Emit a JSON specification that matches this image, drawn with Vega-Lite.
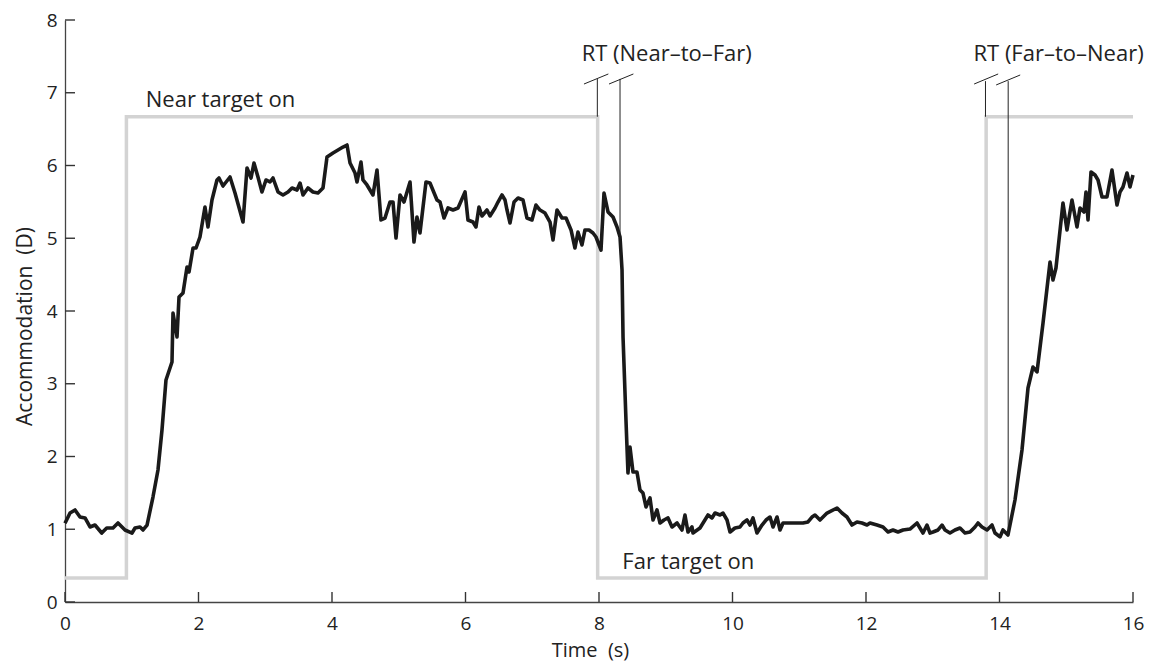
{
  "$schema": "https://vega.github.io/schema/vega-lite/v6.json",
  "width": 1068,
  "height": 582,
  "autosize": {"type": "none"},
  "padding": {"left": 65, "top": 20, "right": 19, "bottom": 59},
  "background": "white",
  "config": {
    "font": "Open Sans",
    "view": {"stroke": null},
    "axis": {
      "grid": false,
      "domainColor": "#444",
      "domainWidth": 1.3,
      "ticks": false,
      "tickSize": 0,
      "labelFontSize": 19,
      "labelColor": "#222",
      "labelFont": "Open Sans",
      "labelFlush": false,
      "titleFont": "Open Sans",
      "titleFontSize": 21,
      "titleFontWeight": "normal",
      "titleColor": "#222"
    }
  },
  "datasets": {
    "trace": [
      {"t":0.000,"a":1.082},{"t":0.075,"a":1.223},{"t":0.150,"a":1.265},{"t":0.225,"a":1.168},{"t":0.300,"a":1.155},
      {"t":0.375,"a":1.031},{"t":0.449,"a":1.058},{"t":0.550,"a":0.948},{"t":0.625,"a":1.017},{"t":0.719,"a":1.017},
      {"t":0.794,"a":1.086},{"t":0.899,"a":0.990},{"t":1.004,"a":0.948},{"t":1.049,"a":1.017},{"t":1.124,"a":1.031},
      {"t":1.169,"a":0.990},{"t":1.229,"a":1.058},{"t":1.318,"a":1.443},{"t":1.393,"a":1.814},{"t":1.453,"a":2.364},
      {"t":1.513,"a":3.052},{"t":1.603,"a":3.299},{"t":1.618,"a":3.973},{"t":1.678,"a":3.643},{"t":1.708,"a":4.192},
      {"t":1.768,"a":4.247},{"t":1.828,"a":4.605},{"t":1.858,"a":4.536},{"t":1.918,"a":4.866},{"t":1.963,"a":4.866},
      {"t":2.022,"a":5.017},{"t":2.097,"a":5.430},{"t":2.142,"a":5.155},{"t":2.202,"a":5.526},{"t":2.277,"a":5.801},
      {"t":2.307,"a":5.828},{"t":2.367,"a":5.718},{"t":2.472,"a":5.842},{"t":2.547,"a":5.622},{"t":2.667,"a":5.223},
      {"t":2.727,"a":5.966},{"t":2.787,"a":5.828},{"t":2.831,"a":6.034},{"t":2.891,"a":5.842},{"t":2.951,"a":5.636},
      {"t":3.011,"a":5.801},{"t":3.071,"a":5.773},{"t":3.116,"a":5.828},{"t":3.191,"a":5.636},{"t":3.266,"a":5.595},
      {"t":3.341,"a":5.636},{"t":3.401,"a":5.691},{"t":3.476,"a":5.663},{"t":3.521,"a":5.759},{"t":3.566,"a":5.595},
      {"t":3.640,"a":5.691},{"t":3.715,"a":5.636},{"t":3.790,"a":5.622},{"t":3.865,"a":5.691},{"t":3.925,"a":6.117},
      {"t":4.015,"a":6.172},{"t":4.090,"a":6.213},{"t":4.165,"a":6.254},{"t":4.225,"a":6.282},{"t":4.270,"a":6.034},
      {"t":4.345,"a":5.897},{"t":4.375,"a":5.773},{"t":4.434,"a":6.048},{"t":4.464,"a":5.801},{"t":4.524,"a":5.732},
      {"t":4.614,"a":5.595},{"t":4.674,"a":5.938},{"t":4.734,"a":5.251},{"t":4.794,"a":5.278},{"t":4.869,"a":5.498},
      {"t":4.914,"a":5.498},{"t":4.959,"a":5.003},{"t":5.019,"a":5.595},{"t":5.079,"a":5.498},{"t":5.169,"a":5.773},
      {"t":5.228,"a":4.948},{"t":5.273,"a":5.292},{"t":5.318,"a":5.072},{"t":5.408,"a":5.773},{"t":5.468,"a":5.759},
      {"t":5.573,"a":5.526},{"t":5.618,"a":5.498},{"t":5.678,"a":5.278},{"t":5.738,"a":5.416},{"t":5.813,"a":5.388},
      {"t":5.888,"a":5.416},{"t":5.993,"a":5.636},{"t":6.037,"a":5.251},{"t":6.112,"a":5.223},{"t":6.157,"a":5.155},
      {"t":6.202,"a":5.430},{"t":6.247,"a":5.306},{"t":6.322,"a":5.388},{"t":6.367,"a":5.306},{"t":6.442,"a":5.416},
      {"t":6.487,"a":5.498},{"t":6.547,"a":5.595},{"t":6.592,"a":5.526},{"t":6.622,"a":5.388},{"t":6.667,"a":5.210},
      {"t":6.727,"a":5.498},{"t":6.787,"a":5.553},{"t":6.861,"a":5.526},{"t":6.921,"a":5.278},{"t":6.996,"a":5.251},
      {"t":7.056,"a":5.457},{"t":7.116,"a":5.388},{"t":7.191,"a":5.347},{"t":7.266,"a":5.223},{"t":7.311,"a":4.976},
      {"t":7.371,"a":5.388},{"t":7.446,"a":5.278},{"t":7.506,"a":5.278},{"t":7.581,"a":5.114},{"t":7.640,"a":4.866},
      {"t":7.685,"a":5.086},{"t":7.745,"a":4.907},{"t":7.790,"a":5.114},{"t":7.850,"a":5.114},{"t":7.910,"a":5.072},
      {"t":7.955,"a":5.017},{"t":8.030,"a":4.838},{"t":8.075,"a":5.622},{"t":8.135,"a":5.361},{"t":8.210,"a":5.292},
      {"t":8.270,"a":5.155},{"t":8.315,"a":5.017},{"t":8.345,"a":4.564},{"t":8.360,"a":3.643},{"t":8.404,"a":2.502},
      {"t":8.434,"a":1.773},{"t":8.464,"a":2.131},{"t":8.509,"a":1.787},{"t":8.569,"a":1.787},{"t":8.614,"a":1.540},
      {"t":8.659,"a":1.498},{"t":8.704,"a":1.306},{"t":8.764,"a":1.430},{"t":8.809,"a":1.127},{"t":8.869,"a":1.265},
      {"t":8.914,"a":1.086},{"t":8.974,"a":1.127},{"t":9.034,"a":1.155},{"t":9.094,"a":1.031},{"t":9.169,"a":1.086},
      {"t":9.243,"a":0.990},{"t":9.288,"a":1.196},{"t":9.333,"a":0.962},{"t":9.393,"a":1.031},{"t":9.408,"a":0.948},
      {"t":9.513,"a":1.017},{"t":9.633,"a":1.196},{"t":9.693,"a":1.155},{"t":9.738,"a":1.223},{"t":9.813,"a":1.196},
      {"t":9.858,"a":1.223},{"t":9.918,"a":1.127},{"t":9.963,"a":0.962},{"t":10.037,"a":1.017},{"t":10.112,"a":1.031},
      {"t":10.157,"a":1.086},{"t":10.217,"a":1.127},{"t":10.262,"a":1.058},{"t":10.307,"a":1.155},{"t":10.367,"a":0.948},
      {"t":10.442,"a":1.058},{"t":10.502,"a":1.127},{"t":10.562,"a":1.168},{"t":10.607,"a":1.031},{"t":10.667,"a":1.168},
      {"t":10.712,"a":0.990},{"t":10.757,"a":1.086},{"t":10.861,"a":1.086},{"t":10.966,"a":1.086},{"t":11.056,"a":1.086},
      {"t":11.131,"a":1.100},{"t":11.191,"a":1.168},{"t":11.236,"a":1.196},{"t":11.311,"a":1.127},{"t":11.416,"a":1.223},
      {"t":11.566,"a":1.292},{"t":11.640,"a":1.223},{"t":11.715,"a":1.168},{"t":11.790,"a":1.058},{"t":11.865,"a":1.100},
      {"t":11.940,"a":1.086},{"t":12.015,"a":1.058},{"t":12.060,"a":1.086},{"t":12.165,"a":1.058},{"t":12.255,"a":1.031},
      {"t":12.330,"a":0.962},{"t":12.404,"a":0.990},{"t":12.479,"a":0.962},{"t":12.554,"a":0.990},{"t":12.659,"a":1.003},
      {"t":12.764,"a":1.086},{"t":12.809,"a":1.017},{"t":12.854,"a":0.948},{"t":12.914,"a":1.058},{"t":12.959,"a":0.948},
      {"t":13.004,"a":0.962},{"t":13.079,"a":0.990},{"t":13.139,"a":1.058},{"t":13.184,"a":0.990},{"t":13.258,"a":0.948},
      {"t":13.333,"a":0.990},{"t":13.408,"a":1.017},{"t":13.483,"a":0.948},{"t":13.558,"a":0.962},{"t":13.633,"a":1.031},
      {"t":13.678,"a":1.086},{"t":13.738,"a":1.031},{"t":13.813,"a":0.990},{"t":13.888,"a":1.058},{"t":13.933,"a":0.948},
      {"t":14.007,"a":0.894},{"t":14.052,"a":0.990},{"t":14.127,"a":0.921},{"t":14.232,"a":1.402},{"t":14.337,"a":2.089},
      {"t":14.427,"a":2.942},{"t":14.502,"a":3.230},{"t":14.562,"a":3.162},{"t":14.652,"a":3.835},{"t":14.757,"a":4.674},
      {"t":14.801,"a":4.426},{"t":14.846,"a":4.591},{"t":14.951,"a":5.485},{"t":15.011,"a":5.113},{"t":15.086,"a":5.526},
      {"t":15.161,"a":5.155},{"t":15.206,"a":5.416},{"t":15.266,"a":5.361},{"t":15.296,"a":5.636},{"t":15.326,"a":5.251},
      {"t":15.371,"a":5.911},{"t":15.431,"a":5.869},{"t":15.476,"a":5.801},{"t":15.536,"a":5.567},{"t":15.610,"a":5.567},
      {"t":15.685,"a":5.938},{"t":15.760,"a":5.457},{"t":15.805,"a":5.636},{"t":15.850,"a":5.705},{"t":15.910,"a":5.897},
      {"t":15.955,"a":5.705},{"t":16.000,"a":5.869}
    ],
    "stim": [
      {"i":0,"t":0,"v":0.33},{"i":1,"t":0.92,"v":0.33},{"i":2,"t":0.92,"v":6.67},{"i":3,"t":7.98,"v":6.67},
      {"i":4,"t":7.98,"v":0.33},{"i":5,"t":13.80,"v":0.33},{"i":6,"t":13.80,"v":6.67},{"i":7,"t":16,"v":6.67}
    ],
    "rt": [
      {"x1":7.975,"y1":6.67,"x2":7.975,"y2":7.19},
      {"x1":8.315,"y1":5.02,"x2":8.315,"y2":7.19},
      {"x1":7.775,"y1":7.12,"x2":8.14,"y2":7.258},
      {"x1":8.15,"y1":7.12,"x2":8.515,"y2":7.258},
      {"x1":13.79,"y1":6.67,"x2":13.79,"y2":7.16},
      {"x1":14.13,"y1":0.93,"x2":14.13,"y2":7.16},
      {"x1":13.62,"y1":7.12,"x2":13.98,"y2":7.258},
      {"x1":13.95,"y1":7.107,"x2":14.31,"y2":7.244}
    ],
    "labels": [
      {"t":1.21,"v":6.80,"label":"Near target on"},
      {"t":7.74,"v":7.43,"label":"RT (Near–to–Far)"},
      {"t":13.61,"v":7.44,"label":"RT (Far–to–Near)"},
      {"t":8.35,"v":0.45,"label":"Far target on"}
    ],
    "xticks": [{"t":0},{"t":2},{"t":4},{"t":6},{"t":8},{"t":10},{"t":12},{"t":14},{"t":16}],
    "yticks": [{"v":0},{"v":1},{"v":2},{"v":3},{"v":4},{"v":5},{"v":6},{"v":7},{"v":8}]
  },
  "layer": [
    {
      "data": {"name": "stim"},
      "mark": {"type": "line", "color": "#d3d3d3", "strokeWidth": 3.5, "strokeJoin": "miter"},
      "encoding": {
        "x": {"field": "t", "type": "quantitative", "scale": {"domain": [0, 16], "nice": false},
          "axis": {"orient": "bottom", "values": [0,2,4,6,8,10,12,14,16], "format": "d", "title": "Time \u00a0(s)",
            "labelPadding": 12,
            "titleX": 525, "titleY": 54, "titleFontSize": 20, "titleBaseline": "alphabetic"}},
        "y": {"field": "v", "type": "quantitative", "scale": {"domain": [0, 8], "nice": false},
          "axis": {"orient": "left", "values": [0,1,2,3,4,5,6,7,8], "format": "d", "title": "Accommodation \u00a0(D)",
            "labelPadding": 8,
            "titleX": -34, "titleY": 306, "titleBaseline": "alphabetic", "titleAngle": -90}},
        "order": {"field": "i", "type": "quantitative"}
      }
    },
    {
      "data": {"name": "trace"},
      "mark": {"type": "line", "color": "#1a1a1a", "strokeWidth": 3.6, "strokeJoin": "round"},
      "encoding": {
        "x": {"field": "t", "type": "quantitative"},
        "y": {"field": "a", "type": "quantitative"}
      }
    },
    {
      "data": {"name": "xticks"},
      "mark": {"type": "rule", "strokeWidth": 1.4, "color": "#333", "y2Offset": -10},
      "encoding": {
        "x": {"field": "t", "type": "quantitative"},
        "y": {"datum": 0, "type": "quantitative"},
        "y2": {"datum": 0}
      }
    },
    {
      "data": {"name": "yticks"},
      "mark": {"type": "rule", "strokeWidth": 1.4, "color": "#333", "x2Offset": 10},
      "encoding": {
        "y": {"field": "v", "type": "quantitative"},
        "x": {"datum": 0, "type": "quantitative"},
        "x2": {"datum": 0}
      }
    },
    {
      "data": {"name": "rt"},
      "mark": {"type": "rule", "color": "#222", "strokeWidth": 1},
      "encoding": {
        "x": {"field": "x1", "type": "quantitative"},
        "y": {"field": "y1", "type": "quantitative"},
        "x2": {"field": "x2"},
        "y2": {"field": "y2"}
      }
    },
    {
      "data": {"name": "labels"},
      "mark": {"type": "text", "align": "left", "baseline": "alphabetic", "fontSize": 22, "color": "#222", "font": "Open Sans"},
      "encoding": {
        "x": {"field": "t", "type": "quantitative"},
        "y": {"field": "v", "type": "quantitative"},
        "text": {"field": "label"}
      }
    }
  ]
}
